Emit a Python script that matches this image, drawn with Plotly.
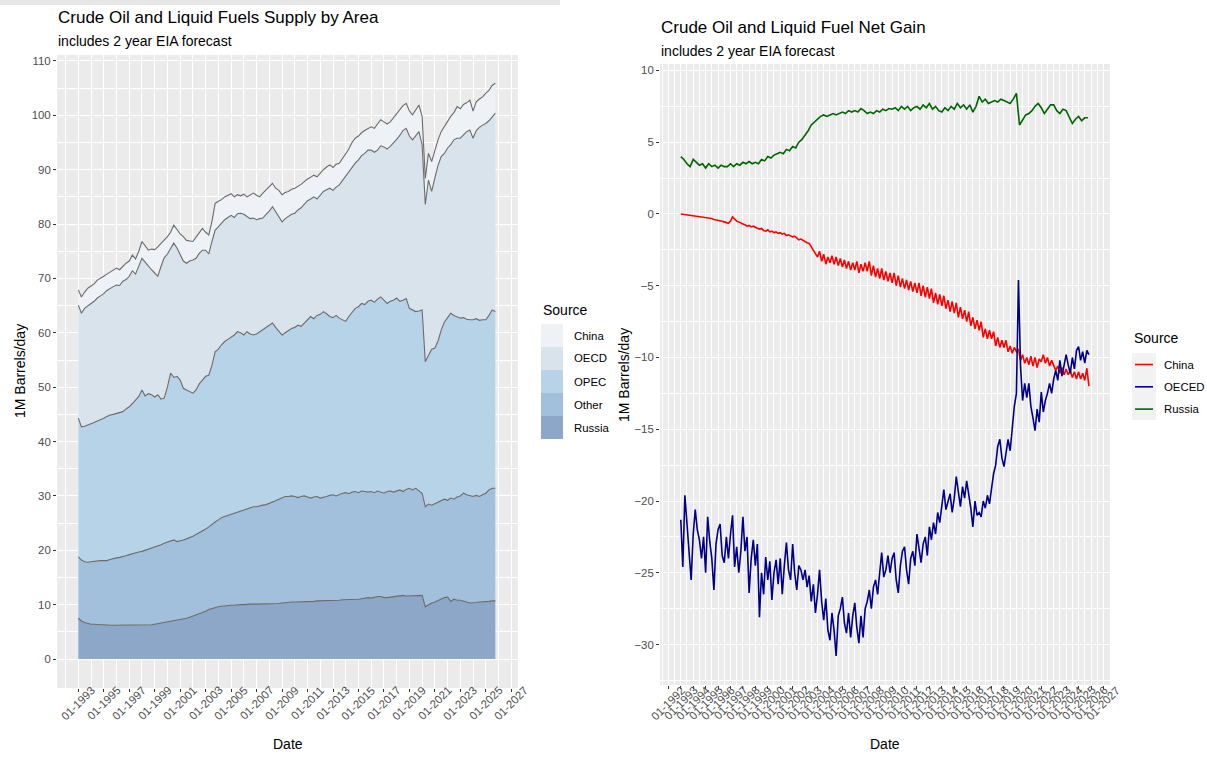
import pandas as pd
import plotly.graph_objects as go

W, H = 1207, 759

# ---------------- data ----------------
quarters = pd.date_range("1993-01-01", periods=132, freq="QS")    # left panel + Russia net gain
bimonths = pd.date_range("1993-01-01", periods=198, freq="2MS")   # China / OECD net gain

# Left panel: cumulative tops of the stacked supply areas (1M barrels/day), quarterly
russia_top = [
    7.5, 7.0, 6.7, 6.5, 6.4, 6.4, 6.3, 6.3, 6.3, 6.2, 6.2, 6.2,
    6.2, 6.2, 6.2, 6.2, 6.2, 6.2, 6.2, 6.2, 6.2, 6.2, 6.3, 6.3,
    6.4, 6.5, 6.6, 6.7, 6.8, 6.9, 7.0, 7.1, 7.2, 7.4, 7.5, 7.7,
    7.9, 8.1, 8.3, 8.6, 8.8, 9.1, 9.3, 9.5, 9.6, 9.7, 9.8, 9.8,
    9.9, 9.9, 10.0, 10.0, 10.0, 10.1, 10.1, 10.1, 10.1, 10.1, 10.2, 10.2,
    10.2, 10.2, 10.1, 10.2, 10.3, 10.4, 10.4, 10.5, 10.5, 10.5, 10.5, 10.6,
    10.6, 10.6, 10.6, 10.7, 10.7, 10.7, 10.7, 10.8, 10.8, 10.8, 10.8, 10.9,
    10.9, 10.9, 10.9, 11.0, 11.0, 11.1, 11.2, 11.3, 11.2, 11.4, 11.5, 11.5,
    11.3, 11.3, 11.4, 11.5, 11.6, 11.7, 11.7, 11.6, 11.6, 11.6, 11.6, 11.7,
    11.7, 9.6, 10.0, 10.3, 10.5, 10.8, 11.0, 11.3, 11.4, 10.6, 11.0, 10.8,
    10.8, 10.7, 10.5, 10.3, 10.3, 10.4, 10.5, 10.5, 10.6, 10.6, 10.7, 10.7,
]
other_top = [
    18.8, 18.2, 17.9, 17.8, 17.9, 18.0, 18.0, 18.1, 18.1, 18.1, 18.3, 18.5,
    18.6, 18.7, 18.8, 19.0, 19.2, 19.4, 19.6, 19.7, 19.8, 20.0, 20.2, 20.4,
    20.6, 20.7, 21.0, 21.3, 21.5, 21.7, 21.9, 21.6, 21.7, 21.9, 22.1, 22.3,
    22.6, 22.9, 23.2, 23.5, 23.9, 24.3, 24.8, 25.2, 25.6, 26.0, 26.2, 26.4,
    26.6, 26.8, 27.1, 27.3, 27.5, 27.7, 27.8, 28.0, 28.0, 28.2, 28.3, 28.4,
    28.6, 28.8, 29.1, 29.4, 29.6, 29.9, 29.9, 30.0, 29.9, 29.7, 29.9, 30.0,
    29.8, 29.6, 29.8, 29.9, 29.6, 29.7, 29.9, 30.1, 30.2, 30.0, 30.3, 30.5,
    30.6, 30.4, 30.7, 30.8, 30.6, 30.9, 30.8, 30.7, 30.8, 30.6, 30.9, 30.7,
    30.5, 30.8, 30.9, 30.7, 30.9, 31.1, 30.8, 31.2, 31.4, 31.1, 31.4, 31.0,
    30.5, 28.0, 28.5, 28.3, 28.6, 28.9, 29.2, 29.4, 29.2, 29.6, 29.4, 29.8,
    30.0, 30.5, 30.2, 30.0, 29.9, 30.1, 29.9, 30.2, 30.5, 31.1, 31.4, 31.4,
]
opec_top = [
    44.3, 42.7, 42.8, 43.0, 43.2, 43.5, 43.8, 44.0, 44.3, 44.6, 44.9, 45.0,
    45.2, 45.3, 45.5, 46.0, 46.4, 47.0, 47.6, 48.3, 49.5, 48.4, 48.8, 48.6,
    48.2, 48.6, 47.8, 48.0, 50.0, 52.6, 51.8, 52.0, 51.3, 49.8, 49.5, 49.2,
    48.9, 49.5, 50.6, 51.3, 52.0, 52.2, 54.0, 56.5, 57.0, 57.8, 58.4, 58.8,
    59.2, 59.6, 60.2, 60.0, 59.6, 60.2, 59.8, 59.6, 59.8, 60.2, 60.6, 61.0,
    61.3, 61.8, 61.0, 60.2, 59.6, 60.0, 60.4, 60.8, 61.0, 61.4, 61.2, 61.8,
    62.4, 63.0, 62.6, 63.2, 63.4, 63.9, 63.5, 63.0, 62.8, 63.2, 62.7, 62.4,
    62.1, 63.0, 63.8, 64.5, 64.8, 65.4, 65.2, 65.8, 66.0, 65.6, 66.2, 66.6,
    66.0, 65.4, 65.8, 66.0, 66.4, 65.8, 66.0, 66.3, 64.5, 64.2, 63.9, 64.0,
    64.2, 54.7, 55.8, 57.0, 57.2, 58.5, 60.5, 62.0, 62.8, 63.6, 63.2, 62.9,
    62.7, 62.8, 62.5, 62.4, 62.4, 62.6, 62.3, 62.4, 62.4, 63.2, 64.2, 63.9,
]
oecd_top = [
    65.1, 63.6, 64.5, 65.0, 65.4, 65.8, 66.4, 66.8, 67.2, 67.8, 68.2, 68.5,
    68.8, 68.7, 69.5, 69.8, 70.4, 71.4, 70.8, 72.2, 73.7, 73.0, 72.2, 71.6,
    71.0, 70.4, 72.2, 73.8, 74.5, 75.5, 76.5, 75.6, 74.5, 73.2, 72.8, 73.2,
    73.4, 73.7, 74.6, 75.2, 75.2, 74.5, 76.8, 78.9, 79.5, 80.2, 80.8, 81.2,
    81.6, 81.2, 81.9, 82.0, 81.8, 81.4, 81.0, 81.1, 80.8, 81.0, 81.1, 81.8,
    82.4, 83.2, 82.2, 81.4, 80.4, 81.0, 81.4, 81.8, 82.0, 82.6, 83.0, 83.6,
    84.3, 84.6, 85.0, 84.6, 85.4, 86.0, 86.3, 86.6, 86.2, 86.8, 87.2, 88.0,
    88.9, 89.6, 90.6, 91.2, 91.8, 92.6, 93.0, 93.6, 93.6, 93.2, 93.6, 94.4,
    94.2, 93.8, 94.3, 94.9, 95.6, 96.3, 97.2, 97.6, 96.2, 95.5, 96.3, 97.0,
    94.6, 83.6, 88.1, 86.0, 88.5, 90.8, 92.4, 93.0, 94.0, 94.6, 95.5, 95.8,
    95.8, 96.5, 97.0, 97.3, 95.8, 97.2, 97.8, 98.2, 98.5, 99.0, 99.8, 100.4,
]
china_top = [
    67.9, 66.6, 67.5, 68.2, 68.6, 69.0, 69.7, 70.0, 70.4, 70.8, 71.2, 71.5,
    71.9, 71.6, 72.3, 72.8, 73.2, 74.3, 73.6, 75.0, 76.8, 76.0, 75.2, 75.4,
    75.3, 75.8, 76.4, 77.0, 77.7, 78.5, 79.8, 79.0, 78.2, 77.7, 77.0, 76.9,
    76.8, 77.6, 78.5, 79.2, 78.5, 78.0, 80.5, 83.8, 84.2, 84.5, 85.0, 85.3,
    85.6, 85.0, 85.4, 85.2, 85.5, 85.0, 85.3, 85.7, 85.3, 85.0, 85.7, 86.3,
    86.8, 87.5, 86.6, 86.2, 85.4, 85.8, 86.0, 86.4, 86.6, 86.9, 87.3, 87.8,
    88.3, 88.6, 89.0, 88.7, 89.4, 90.0, 90.5, 90.9, 90.4, 91.0, 91.2, 92.0,
    93.0, 93.8, 95.0, 95.8, 96.2, 96.8, 97.2, 97.5, 97.9, 97.6, 98.5, 99.2,
    98.8, 98.4, 98.8, 99.6, 100.3, 101.0, 101.8, 102.2, 100.8, 100.1, 101.0, 101.9,
    99.8, 88.4, 93.0, 91.5, 93.5, 95.5, 97.0, 97.9, 99.0, 99.8, 100.5, 101.6,
    101.2, 102.0, 102.3, 102.8, 100.8, 102.5, 103.0, 103.4, 104.1, 104.6, 105.5, 105.9,
]

# Right panel: net gain (1M barrels/day); China and OECD every two months
net_china = [
    0.0, -0.02, -0.05, -0.08, -0.1, -0.12,
    -0.15, -0.15, -0.2, -0.18, -0.22, -0.25,
    -0.25, -0.3, -0.28, -0.32, -0.38, -0.4,
    -0.42, -0.45, -0.5, -0.55, -0.6, -0.65,
    -0.5, -0.2, -0.35, -0.5, -0.55, -0.65,
    -0.7, -0.75, -0.85, -0.8, -0.9, -0.85,
    -0.95, -1.0, -1.05, -1.0, -1.15, -1.2,
    -1.1, -1.25, -1.2, -1.3, -1.25, -1.35,
    -1.3, -1.4, -1.35, -1.5, -1.45, -1.55,
    -1.6, -1.55, -1.7, -1.8, -1.75, -1.85,
    -1.9, -2.0, -2.05, -2.3, -2.5, -2.8,
    -3.0, -2.6, -3.3, -2.8, -3.5, -3.0,
    -3.4, -2.9, -3.5, -3.0, -3.6, -3.1,
    -3.7, -3.2, -3.8, -3.3, -3.9, -3.4,
    -3.9, -3.3, -4.1, -3.5, -4.0, -3.4,
    -4.0, -3.3, -4.3, -3.6, -4.4, -3.8,
    -4.5, -3.8, -4.6, -4.0, -4.7, -4.1,
    -4.8, -4.1, -5.0, -4.3, -5.1, -4.5,
    -5.2, -4.6, -5.3, -4.7, -5.4, -4.8,
    -5.5, -4.8, -5.7, -5.0, -5.8, -5.1,
    -5.9, -5.2, -6.2, -5.5, -6.3, -5.6,
    -6.4, -5.7, -6.6, -6.0, -6.8, -6.1,
    -6.9, -6.2, -7.2, -6.5, -7.3, -6.7,
    -7.5, -6.8, -7.8, -7.2, -8.0, -7.4,
    -8.1, -7.5, -8.6, -8.0, -8.7, -8.1,
    -8.7, -8.2, -9.2, -8.6, -9.3, -8.8,
    -9.3, -8.8, -9.6, -9.2, -9.7, -9.3,
    -9.6, -9.4, -10.2, -9.8, -10.4, -10.0,
    -10.5, -9.9, -10.6, -10.0, -10.7, -10.1,
    -10.3, -9.8, -10.4, -10.0, -10.6, -10.2,
    -10.5, -10.9, -10.6, -11.1, -10.7, -11.2,
    -10.8, -11.2, -10.9, -11.4, -11.0, -11.5,
    -11.0, -11.5, -11.1, -11.6, -10.75, -12.0,
]
net_oecd = [
    -21.3, -24.6, -19.6, -21.8, -23.5, -25.5,
    -22.3, -20.6, -22.0, -22.7, -24.0, -22.5,
    -25.0, -21.1, -22.8, -24.0, -26.2, -23.0,
    -22.0, -21.6, -23.8, -24.3, -22.5, -24.0,
    -22.3, -21.0, -24.6, -23.2, -25.0, -23.5,
    -21.1, -23.5, -22.5, -26.4, -24.0, -22.7,
    -24.5, -23.0, -28.1, -25.0, -26.5, -23.9,
    -25.5, -24.2, -26.9, -25.0, -24.1, -25.8,
    -24.0, -26.5, -24.5, -22.9, -24.8, -25.5,
    -23.0, -25.0, -26.2, -24.5, -24.8, -25.5,
    -24.8, -26.0, -25.2, -27.0, -25.8, -27.8,
    -26.5, -24.8, -27.0, -28.3, -26.8, -29.0,
    -29.7, -27.8, -29.0, -30.8, -28.0, -27.5,
    -26.7, -28.5, -29.2, -27.8, -29.5, -28.0,
    -27.1, -28.8, -29.9, -28.0, -29.5, -27.5,
    -27.0, -26.2, -27.5, -26.0, -25.5, -26.5,
    -25.0, -23.6, -25.3, -24.8, -23.8, -25.0,
    -24.0, -23.6, -25.5, -26.4, -24.5, -23.5,
    -23.2, -24.8, -25.8, -24.0, -23.5, -24.5,
    -22.3, -23.5, -24.3, -23.0, -22.5, -23.8,
    -21.8, -22.7, -21.5, -22.3, -20.8, -21.5,
    -20.4, -19.2, -20.6, -20.0, -19.5, -20.8,
    -19.8, -18.3, -19.5, -20.4, -19.0, -19.8,
    -18.6, -19.5, -20.5, -21.8, -20.0, -21.0,
    -20.8, -21.1, -20.0, -20.5, -19.6, -20.2,
    -19.0, -18.1, -17.5, -16.2, -15.7, -17.0,
    -17.6, -16.5, -15.7, -16.5, -15.0, -13.4,
    -12.5, -4.6, -10.6, -13.0, -11.8, -12.8,
    -11.8, -13.4, -14.2, -15.1, -13.6, -14.5,
    -12.4, -13.8, -13.0, -12.5, -11.8, -12.5,
    -11.5, -10.9, -11.6, -10.2, -11.3, -10.6,
    -9.8, -10.5, -11.1, -10.0, -10.8, -9.5,
    -9.25, -10.2, -9.6, -10.4, -9.5, -9.8,
]
net_russia = [
    4.0, 3.8, 3.5, 3.3, 3.8, 3.6, 3.4, 3.5, 3.2, 3.5, 3.3, 3.4,
    3.2, 3.4, 3.3, 3.3, 3.5, 3.3, 3.5, 3.4, 3.6, 3.5, 3.65, 3.5,
    3.6, 3.5, 3.8, 3.7, 4.0, 3.9, 4.1, 4.2, 4.3, 4.2, 4.5, 4.4,
    4.7, 4.6, 5.0, 5.2, 5.5, 5.8, 6.2, 6.4, 6.6, 6.8, 6.9, 6.8,
    6.9, 7.0, 6.9, 7.0, 7.1, 7.0, 7.2, 7.1, 7.2, 7.1, 7.35, 7.2,
    7.0, 7.1, 7.0, 7.2, 7.1, 7.3, 7.2, 7.35, 7.3, 7.4, 7.2, 7.5,
    7.3, 7.5, 7.2, 7.4, 7.5, 7.3, 7.6, 7.4, 7.7, 7.3, 7.5, 7.2,
    7.1, 7.4, 7.2, 7.5, 7.3, 7.7, 7.4, 7.6, 7.3, 7.6, 7.1, 7.5,
    8.2, 7.8, 8.0, 7.7, 7.8, 7.9, 7.8, 8.0, 7.9, 7.8, 7.7, 8.0,
    8.4, 6.2, 6.6, 6.9, 7.0, 7.2, 7.5, 7.7, 7.4, 7.0, 7.3, 7.6,
    7.6, 7.2, 7.0, 7.3, 7.2, 6.8, 6.3, 6.6, 6.8, 6.5, 6.7, 6.7,
]

area_names = ["Russia", "Other", "OPEC", "OECD", "China"]
area_fills = ["#8DA7C9", "#A2C0DB", "#B7D3E7", "#D9E3EC", "#EEF1F6"]
net_names = ["China", "OECED", "Russia"]
net_colors = ["#FF0000", "#00008B", "#006400"]

left_tick_years = list(range(1993, 2028, 2))
right_tick_years = list(range(1992, 2028))

for arr in (russia_top, other_top, opec_top, oecd_top, china_top, net_russia):
    assert len(arr) == len(quarters), len(arr)
for arr in (net_china, net_oecd):
    assert len(arr) == len(bimonths), len(arr)

# ---------------- helpers ----------------
def px_x(p):
    return p / W


def px_y(p):
    return 1 - p / H


FONT = "Liberation Sans, Arial, Helvetica, sans-serif"
TICK_COL = "#4D4D4D"
TICK_SIZE = 11.4

fig = go.Figure()

area_values = [russia_top, other_top, opec_top, oecd_top, china_top]
for i, (name, vals, col) in enumerate(zip(area_names, area_values, area_fills)):
    fig.add_trace(go.Scatter(
        x=quarters, y=vals, name=name, mode="lines",
        line=dict(color="#6B6B6B", width=1.1),
        fill="tozeroy" if i == 0 else "tonexty", fillcolor=col,
        xaxis="x", yaxis="y", showlegend=False,
    ))

net_x = [bimonths, bimonths, quarters]
net_values = [net_china, net_oecd, net_russia]
for name, xs, vals, col in zip(net_names, net_x, net_values, net_colors):
    fig.add_trace(go.Scatter(
        x=xs, y=vals, name=name, mode="lines",
        line=dict(color=col, width=1.6),
        xaxis="x2", yaxis="y2", showlegend=False,
    ))

common = dict(showgrid=True, gridcolor="white", gridwidth=1.2, zeroline=False,
              showline=False, ticks="outside", ticklen=3, tickcolor="#333333",
              tickwidth=1, tickfont=dict(size=TICK_SIZE, color=TICK_COL, family=FONT))
minor_grid = dict(showgrid=True, gridcolor="white", gridwidth=0.6, ticks="")

x_range = ["1991-05-01", "2027-07-13"]

fig.update_layout(
    width=W, height=H,
    margin=dict(l=0, r=0, t=0, b=0),
    paper_bgcolor="white", plot_bgcolor="#EBEBEB",
    font=dict(family=FONT, color="black"),
    xaxis=dict(domain=[px_x(57), px_x(518)], range=x_range, type="date", anchor="y",
               tickmode="array", tickvals=[f"{y}-01-01" for y in left_tick_years],
               showticklabels=False,
               minor=dict(tickmode="array", tickvals=[f"{y}-01-01" for y in range(1992, 2028, 2)], **minor_grid),
               **common),
    yaxis=dict(domain=[px_y(688), px_y(55)], range=[-5.33, 111.1], anchor="x",
               tickmode="array", tickvals=list(range(0, 111, 10)),
               minor=dict(tickmode="array", tickvals=list(range(5, 111, 10)), **minor_grid),
               **common),
    xaxis2=dict(domain=[px_x(660), px_x(1110)], range=x_range, type="date", anchor="y2",
                tickmode="array", tickvals=[f"{y}-01-01" for y in right_tick_years],
                showticklabels=False,
                minor=dict(tickmode="array", tickvals=[f"{y}-07-01" for y in range(1991, 2028)], **minor_grid),
                **common),
    yaxis2=dict(domain=[px_y(685), px_y(64)], range=[-32.82, 10.45], anchor="x2",
                tickmode="array", tickvals=list(range(-30, 11, 5)),
                minor=dict(tickmode="array", tickvals=[-32.5, -27.5, -22.5, -17.5, -12.5, -7.5, -2.5, 2.5, 7.5], **minor_grid),
                **common),
)

ann = []
shapes = []

# rotated x tick labels (centred on the ticks, as in the reference)
for yv in left_tick_years:
    ann.append(dict(x=f"{yv}-01-01", xref="x", y=px_y(703), yref="paper",
                    text=f"01-{yv}", textangle=-45, showarrow=False,
                    xanchor="center", yanchor="middle",
                    font=dict(size=TICK_SIZE, color=TICK_COL, family=FONT)))
for yv in right_tick_years:
    ann.append(dict(x=f"{yv}-01-01", xref="x2", y=px_y(703), yref="paper",
                    text=f"01-{yv}", textangle=-45, showarrow=False,
                    xanchor="center", yanchor="middle",
                    font=dict(size=TICK_SIZE, color=TICK_COL, family=FONT)))


def text_at(x, y, s, size, xanchor="left", angle=0, color="black"):
    ann.append(dict(x=px_x(x), y=px_y(y), xref="paper", yref="paper", text=s,
                    showarrow=False, xanchor=xanchor, yanchor="middle", textangle=angle,
                    font=dict(size=size, color=color, family=FONT)))


# titles
text_at(56, 18, "Crude Oil and Liquid Fuels Supply by Area", 17)
text_at(56, 41, "includes 2 year EIA forecast", 14)
text_at(659, 28, "Crude Oil and Liquid Fuel Net Gain", 17)
text_at(659, 51, "includes 2 year EIA forecast", 14)

# axis titles
text_at(287.5, 744, "Date", 14, xanchor="center")
text_at(885, 744, "Date", 14, xanchor="center")
text_at(20, 371, "1M Barrels/day", 14, xanchor="center", angle=-90)
text_at(624, 375, "1M Barrels/day", 14, xanchor="center", angle=-90)

# left legend (fill keys)
text_at(541, 310, "Source", 14)
legend_order = list(zip(area_names, area_fills))[::-1]  # China .. Russia
row_top = 324
for k, (name, col) in enumerate(legend_order):
    y0 = row_top + 23 * k
    shapes.append(dict(type="rect", xref="paper", yref="paper",
                       x0=px_x(541), x1=px_x(563), y0=px_y(y0), y1=px_y(y0 + 23),
                       fillcolor=col, line=dict(width=0)))
    text_at(572, y0 + 11.5, name, TICK_SIZE)

# right legend (line keys)
text_at(1132, 338, "Source", 14)
shapes.append(dict(type="rect", xref="paper", yref="paper",
                   x0=px_x(1132), x1=px_x(1156), y0=px_y(353), y1=px_y(420),
                   fillcolor="#F2F2F2", line=dict(width=0)))
for k, (name, col) in enumerate(zip(net_names, net_colors)):
    yc = 364.5 + 22.3 * k
    shapes.append(dict(type="line", xref="paper", yref="paper",
                       x0=px_x(1135), x1=px_x(1153), y0=px_y(yc), y1=px_y(yc),
                       line=dict(color=col, width=1.6)))
    text_at(1162, yc, name, TICK_SIZE)

# faint grey band along the top edge of the screenshot
shapes.append(dict(type="rect", xref="paper", yref="paper", layer="below",
                   x0=0, x1=px_x(560), y0=px_y(5), y1=1,
                   fillcolor="#E6E6E6", line=dict(width=0)))

fig.update_layout(annotations=ann, shapes=shapes)

# remove the default 8px page margin so the figure fills the 1207x759 window exactly
fig.write_html("out.html", config={"displayModeBar": False},
               post_script="document.body.style.margin='0';document.body.style.overflow='hidden';")
